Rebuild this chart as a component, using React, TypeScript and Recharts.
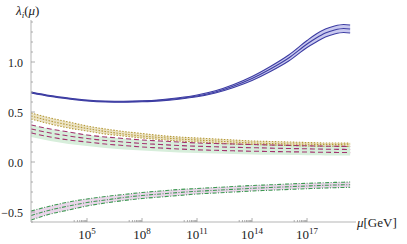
import { ComposedChart, Line, Area, XAxis, YAxis } from 'recharts';

// log10(mu / GeV)
const LOG_MU = [1.95, 3, 4, 5, 6, 7, 8, 9, 10, 11, 12, 13, 14, 15, 16, 17, 17.5, 18, 18.5, 19, 19.35];

const BLUE_TOP = [0.70, 0.665, 0.64, 0.62, 0.61, 0.608, 0.612, 0.623, 0.642, 0.67, 0.712, 0.775, 0.855, 0.955, 1.07, 1.215, 1.28, 1.33, 1.36, 1.375, 1.37];
const BLUE_MID = [0.695, 0.66, 0.635, 0.615, 0.605, 0.603, 0.607, 0.617, 0.635, 0.66, 0.70, 0.76, 0.835, 0.93, 1.04, 1.18, 1.24, 1.29, 1.32, 1.335, 1.33];
const BLUE_BOT = [0.69, 0.655, 0.63, 0.61, 0.60, 0.598, 0.602, 0.611, 0.628, 0.652, 0.69, 0.745, 0.815, 0.905, 1.01, 1.145, 1.20, 1.25, 1.28, 1.295, 1.29];

const YEL_TOP = [0.49, 0.44, 0.40, 0.36, 0.33, 0.305, 0.285, 0.265, 0.25, 0.24, 0.23, 0.22, 0.21, 0.205, 0.20, 0.195, 0.193, 0.19, 0.19, 0.189, 0.188];
const YEL_MID = [0.46, 0.41, 0.37, 0.335, 0.305, 0.28, 0.26, 0.245, 0.23, 0.22, 0.21, 0.20, 0.19, 0.185, 0.18, 0.178, 0.176, 0.175, 0.174, 0.173, 0.172];
const YEL_BOT = [0.43, 0.38, 0.34, 0.31, 0.28, 0.26, 0.24, 0.225, 0.21, 0.20, 0.19, 0.18, 0.175, 0.17, 0.165, 0.16, 0.159, 0.158, 0.157, 0.156, 0.155];

const RED_TOP = [0.37, 0.33, 0.30, 0.27, 0.25, 0.235, 0.22, 0.21, 0.20, 0.19, 0.185, 0.18, 0.175, 0.17, 0.166, 0.162, 0.16, 0.158, 0.157, 0.156, 0.155];
const RED_MID = [0.33, 0.29, 0.26, 0.235, 0.215, 0.20, 0.185, 0.175, 0.165, 0.158, 0.152, 0.147, 0.143, 0.139, 0.135, 0.132, 0.13, 0.128, 0.127, 0.126, 0.125];
const RED_BOT = [0.29, 0.25, 0.22, 0.20, 0.18, 0.165, 0.15, 0.14, 0.13, 0.122, 0.117, 0.112, 0.108, 0.105, 0.102, 0.10, 0.098, 0.097, 0.096, 0.095, 0.094];
const RED_FILL_HI = [0.37, 0.33, 0.30, 0.27, 0.25, 0.235, 0.22, 0.21, 0.20, 0.19, 0.185, 0.18, 0.177, 0.174, 0.17, 0.167, 0.166, 0.165, 0.164, 0.163, 0.162];
const RED_FILL_LO = [0.25, 0.21, 0.18, 0.16, 0.14, 0.125, 0.115, 0.105, 0.095, 0.09, 0.085, 0.08, 0.075, 0.072, 0.07, 0.068, 0.067, 0.066, 0.065, 0.065, 0.064];

const GRN_TOP = [-0.49, -0.44, -0.40, -0.37, -0.345, -0.325, -0.305, -0.29, -0.275, -0.265, -0.255, -0.245, -0.235, -0.228, -0.22, -0.213, -0.21, -0.207, -0.204, -0.202, -0.20];
const GRN_MID = [-0.535, -0.48, -0.44, -0.405, -0.38, -0.355, -0.335, -0.32, -0.305, -0.293, -0.283, -0.273, -0.263, -0.255, -0.247, -0.24, -0.236, -0.233, -0.23, -0.228, -0.227];
const GRN_BOT = [-0.58, -0.52, -0.48, -0.44, -0.41, -0.385, -0.365, -0.35, -0.335, -0.32, -0.31, -0.30, -0.29, -0.282, -0.274, -0.267, -0.263, -0.26, -0.257, -0.255, -0.253];

const X_MAJOR = [5, 8, 11, 14, 17];
const X_TICKS = X_MAJOR.flatMap(n => [2, 3, 4, 5, 6, 7, 8, 9].map(k => n - 1 + Math.log10(k)).concat([n]));
const Y_TICKS = Array.from({ length: 21 }, (_, i) => Math.round((-0.6 + i * 0.1) * 10) / 10);
const Y_LABELS: Record<string, string> = { '-0.5': '\u22120.5', '0': '0.0', '0.5': '0.5', '1': '1.0' };

const data = LOG_MU.map((x, i) => ({
  x,
  blueBand: [BLUE_BOT[i], BLUE_TOP[i]],
  yelBand: [YEL_BOT[i], YEL_TOP[i]],
  redBand: [RED_FILL_LO[i], RED_FILL_HI[i]],
  grnBand: [GRN_BOT[i], GRN_TOP[i]],
  b1: BLUE_TOP[i], b2: BLUE_MID[i], b3: BLUE_BOT[i],
  y1: YEL_TOP[i], y2: YEL_MID[i], y3: YEL_BOT[i],
  r1: RED_TOP[i], r2: RED_MID[i], r3: RED_BOT[i],
  g1: GRN_TOP[i], g2: GRN_MID[i], g3: GRN_BOT[i],
}));

const FONT = "'Liberation Serif', 'Times New Roman', Tinos, 'DejaVu Serif', serif";
const AXIS = '#b5b5b5';
const txt = { fontFamily: FONT, fontSize: 13 };

function XTick({ x, y, payload }: any) {
  const v = payload.value;
  const major = X_MAJOR.includes(v);
  return (
    <g>
      <line x1={x} x2={x} y1={y} y2={y - (major ? 4 : 2)} stroke="#999" strokeWidth={0.8} />
      {major && (
        <text x={x} y={y + 17} textAnchor="middle" style={txt} fill="#222">
          10<tspan dy={-5} style={{ fontSize: 9 }}>{v}</tspan>
        </text>
      )}
    </g>
  );
}

function YTick({ x, y, payload }: any) {
  const label = Y_LABELS[String(payload.value)];
  return (
    <g>
      <line x1={x} x2={x + (label ? 4 : 2)} y1={y} y2={y} stroke="#999" strokeWidth={0.8} />
      {label && (
        <text x={x - 8} y={y + 4.5} textAnchor="end" style={{ fontFamily: FONT, fontSize: 12 }} fill="#222">
          {label}
        </text>
      )}
    </g>
  );
}

const lineProps = { type: 'monotone' as const, dot: false, isAnimationActive: false, strokeWidth: 1.1 };

export default function App() {
  return (
    <div style={{ position: 'relative', width: 407, height: 244 }}>
      <style>{'body{margin:0}'}</style>
      <ComposedChart width={407} height={244} data={data} margin={{ top: 20, right: 51, bottom: 0, left: 0 }}>
        <XAxis
          dataKey="x" type="number" domain={[1.945, 19.67]} allowDataOverflow
          ticks={X_TICKS} interval={0} tick={<XTick />} tickLine={false} tickSize={0} tickMargin={0}
          height={22} axisLine={{ stroke: AXIS }}
        />
        <YAxis
          type="number" domain={[-0.6, 1.42]} allowDataOverflow
          ticks={Y_TICKS} interval={0} tick={<YTick />} tickLine={false} tickSize={0} tickMargin={0}
          width={31} axisLine={{ stroke: AXIS }}
        />
        <Area type="monotone" dataKey="blueBand" stroke="none" fill="#c9c9ef" fillOpacity={1} isAnimationActive={false} />
        <Area type="monotone" dataKey="yelBand" stroke="none" fill="#ece3c4" fillOpacity={1} isAnimationActive={false} />
        <Area type="monotone" dataKey="redBand" stroke="none" fill="#d7eedb" fillOpacity={1} isAnimationActive={false} />
        <Area type="monotone" dataKey="grnBand" stroke="none" fill="#ead5ea" fillOpacity={1} isAnimationActive={false} />
        <Line dataKey="b1" stroke="#3c3ca2" {...lineProps} />
        <Line dataKey="b2" stroke="#3c3ca2" {...lineProps} />
        <Line dataKey="b3" stroke="#3c3ca2" {...lineProps} />
        <Line dataKey="y1" stroke="#b59a3a" strokeDasharray="1.5 1.5" {...lineProps} />
        <Line dataKey="y2" stroke="#b59a3a" strokeDasharray="1.5 1.5" {...lineProps} />
        <Line dataKey="y3" stroke="#b59a3a" strokeDasharray="1.5 1.5" {...lineProps} />
        <Line dataKey="r1" stroke="#a3336f" strokeDasharray="5 3" {...lineProps} />
        <Line dataKey="r2" stroke="#a3336f" strokeDasharray="5 3" {...lineProps} />
        <Line dataKey="r3" stroke="#a3336f" strokeDasharray="5 3" {...lineProps} />
        <Line dataKey="g1" stroke="#3d9a52" strokeDasharray="4 1.5 1 1.5" {...lineProps} />
        <Line dataKey="g2" stroke="#3d9a52" strokeDasharray="4 1.5 1 1.5" {...lineProps} />
        <Line dataKey="g3" stroke="#3d9a52" strokeDasharray="4 1.5 1 1.5" {...lineProps} />
      </ComposedChart>
      <svg width={407} height={244} style={{ position: 'absolute', left: 0, top: 0, pointerEvents: 'none' }}>
        <text x={16} y={15} style={txt} fill="#222">
          <tspan fontStyle="italic">λ</tspan>
          <tspan fontStyle="italic" style={{ fontSize: 9 }} dy={3}>i</tspan>
          <tspan dy={-3}>(</tspan>
          <tspan fontStyle="italic">μ</tspan>
          <tspan>)</tspan>
        </text>
        <text x={357} y={227} style={txt} fill="#222">
          <tspan fontStyle="italic">μ</tspan>[GeV]
        </text>
      </svg>
    </div>
  );
}
